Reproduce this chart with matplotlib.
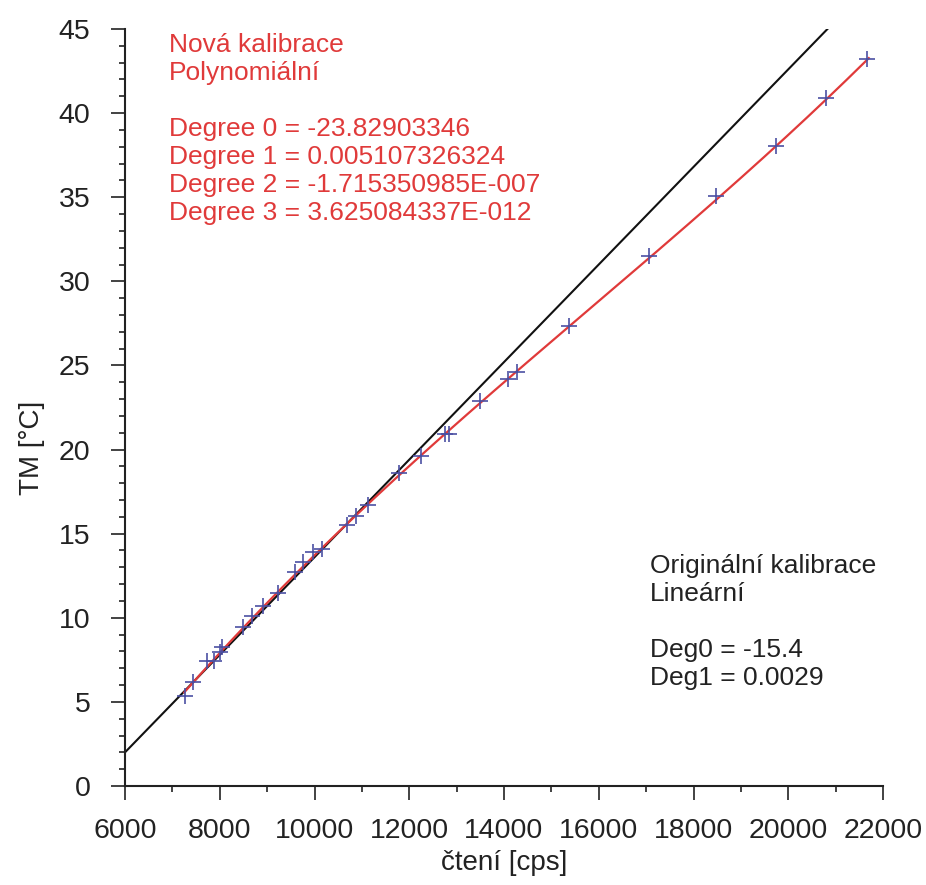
import numpy as np
import matplotlib
matplotlib.use("Agg")
import matplotlib.pyplot as plt
from matplotlib.ticker import MultipleLocator

plt.rcParams['font.family'] = ['Liberation Sans', 'DejaVu Sans']

# Measured calibration points: reading [cps] vs. TM [°C]
cps = [7266, 7429, 7731, 7879, 8005, 8047, 8491, 8674, 8913, 9230,
       9588, 9757, 9968, 10152, 10680, 10876, 11129, 11790, 12242,
       12750, 12830, 13493, 14091, 14281, 15378, 17067, 18475, 19741,
       20797, 21656]
tm = [5.35, 6.20, 7.45, 7.45, 7.95, 8.25, 9.47, 10.1, 10.7, 11.5,
      12.74, 13.33, 13.93, 14.07, 15.52, 16.05, 16.70, 18.59, 19.62,
      20.93, 20.93, 22.9, 24.18, 24.63, 27.35, 31.51, 35.07, 38.05,
      40.88, 43.2]

# New calibration: cubic polynomial coefficients (degree 0..3)
poly_coef = [-23.82903346, 0.005107326324, -1.715350985e-7, 3.625084337e-12]
poly_range = [7250, 21700]

# Original calibration: linear
lin_coef = [-15.4, 0.0029]
lin_range = [6000, 22000]

red_lines = ["Nová kalibrace", "Polynomiální", "",
             "Degree 0 = -23.82903346", "Degree 1 = 0.005107326324",
             "Degree 2 = -1.715350985E-007", "Degree 3 = 3.625084337E-012"]
black_lines = ["Originální kalibrace", "Lineární", "",
               "Deg0 = -15.4", "Deg1 = 0.0029"]

W, H = 926, 885
fig = plt.figure(figsize=(W / 100, H / 100), dpi=100)
ax = fig.add_axes([125 / W, 1 - 786 / H, (883 - 125) / W, (786 - 29) / H])

xl = np.linspace(lin_range[0], lin_range[1], 400)
ax.plot(xl, lin_coef[0] + lin_coef[1] * xl, color='#111111', lw=1.5, zorder=2)

xp = np.linspace(poly_range[0], poly_range[1], 400)
yp = sum(c * xp ** i for i, c in enumerate(poly_coef))
ax.plot(xp, yp, color='#e03a3a', lw=1.6, zorder=3)

ax.plot(cps, tm, linestyle='none', marker='+', markersize=11,
        markeredgewidth=1.2, color='#4b50a3', zorder=4)

ax.set_xlim(6000, 22000)
ax.set_ylim(0, 45)
ax.xaxis.set_major_locator(MultipleLocator(2000))
ax.xaxis.set_minor_locator(MultipleLocator(1000))
ax.yaxis.set_major_locator(MultipleLocator(5))
ax.yaxis.set_minor_locator(MultipleLocator(1))

for s in ['top', 'right']:
    ax.spines[s].set_visible(False)
for s in ['left', 'bottom']:
    ax.spines[s].set_linewidth(1.5)
    ax.spines[s].set_color('#222222')

ax.tick_params(which='major', direction='out', length=10, width=1.2,
               labelsize=20.5, colors='#222222')
ax.tick_params(axis='x', which='major', pad=13)
ax.tick_params(axis='y', which='major', pad=15)
ax.tick_params(which='minor', direction='out', length=4.5, width=1.2,
               colors='#222222')

ax.set_xlabel("čtení [cps]", fontsize=20, color='#222222', labelpad=4)
ax.set_ylabel("TM [°C]", fontsize=20, color='#222222')
ax.yaxis.set_label_coords(-0.105, 0.4465)

# Annotation blocks, one baseline per line
line_step = 28
for i, t in enumerate(red_lines):
    if t:
        fig.text(169 / W, 1 - (52 + i * line_step) / H, t, fontsize=19,
                 color='#e03a3a', va='baseline', ha='left')
for i, t in enumerate(black_lines):
    if t:
        fig.text(650 / W, 1 - (573 + i * line_step) / H, t, fontsize=19,
                 color='#222222', va='baseline', ha='left')

fig.savefig("out.png", dpi=100)
